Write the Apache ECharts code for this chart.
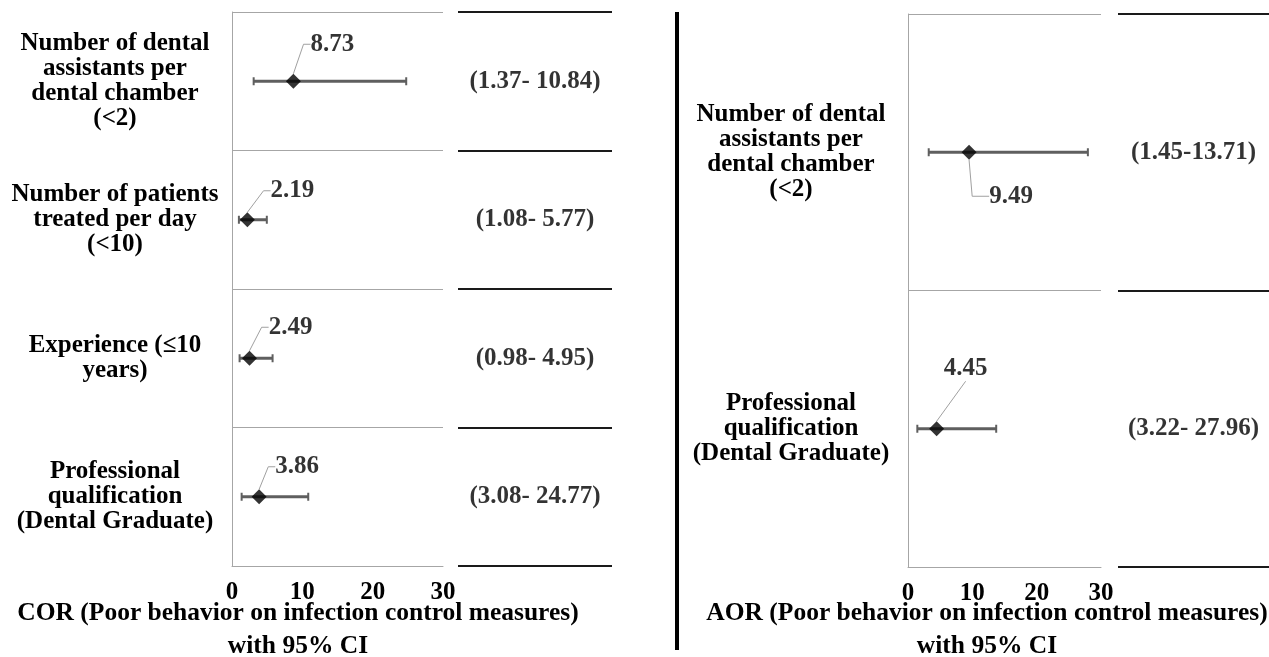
<!DOCTYPE html>
<html>
<head>
<meta charset="utf-8">
<script src="https://cdn.jsdelivr.net/npm/echarts@6/dist/echarts.min.js"></script>
<style>
html, body { margin: 0; padding: 0; background: #fff; }
#main { width: 1269px; height: 657px; }
</style>
</head>
<body>
<div id="main"></div>
<script>
// crude odds ratios (left panel)
var corLabels = ['Number of dental\nassistants per\ndental chamber\n(<2)', 'Number of patients\ntreated per day\n(<10)', 'Experience (\u226410\nyears)', 'Professional\nqualification\n(Dental Graduate)'];
var corValues = [8.73, 2.19, 2.49, 3.86];
var corLow = [3.08, 0.98, 1.08, 1.37];   // whiskers as drawn in the picture
var corHigh = [24.77, 4.95, 5.77, 10.84];
var corText = ['(1.37- 10.84)', '(1.08- 5.77)', '(0.98- 4.95)', '(3.08- 24.77)'];

// adjusted odds ratios (right panel)
var aorLabels = ['Number of dental\nassistants per\ndental chamber\n(<2)', 'Professional\nqualification\n(Dental Graduate)'];
var aorValues = [9.49, 4.45];
var aorLow = [3.22, 1.45];
var aorHigh = [27.96, 13.71];
var aorText = ['(1.45-13.71)', '(3.22- 27.96)'];

var xTicks = [0, 10, 20, 30];
var corTitle = 'COR (Poor behavior on infection control measures)\nwith 95% CI';
var aorTitle = 'AOR (Poor behavior on infection control measures)\nwith 95% CI';

// label shifts and leader elbow lengths for the value callouts (layout only)
var corShift = [[39, -37], [45, -29], [41, -31], [38, -30]];
var corElbow = [7, 7, 7, 7];
var aorShift = [[42, 44], [29, -60]];
var aorElbow = [17, 0];

var FONT = 'Liberation Serif';
var FS = 25;
var GRID_LINE = '#a6a6a6';
var BAR_COLOR = '#5f5f5f';

function renderErrorBar(params, api) {
    var y = api.value(2);
    var p1 = api.coord([api.value(0), y]);
    var p2 = api.coord([api.value(1), y]);
    var cap = 4;
    return {
        type: 'group',
        children: [
            { type: 'line', shape: { x1: p1[0], y1: p1[1], x2: p2[0], y2: p2[1] }, style: { stroke: BAR_COLOR, lineWidth: 3 } },
            { type: 'line', shape: { x1: p1[0], y1: p1[1] - cap, x2: p1[0], y2: p1[1] + cap }, style: { stroke: BAR_COLOR, lineWidth: 2 } },
            { type: 'line', shape: { x1: p2[0], y1: p2[1] - cap, x2: p2[0], y2: p2[1] + cap }, style: { stroke: BAR_COLOR, lineWidth: 2 } }
        ]
    };
}

function valueAxis(idx) {
    return {
        type: 'value',
        gridIndex: idx,
        min: xTicks[0],
        max: xTicks[xTicks.length - 1],
        interval: xTicks[1] - xTicks[0],
        axisLine: { show: true, lineStyle: { color: GRID_LINE, width: 1 } },
        axisTick: { show: false },
        splitLine: { show: false },
        axisLabel: { fontFamily: FONT, fontWeight: 'bold', fontSize: FS, color: '#000', margin: 14 }
    };
}

function hiddenAxis(idx) {
    return { type: 'value', gridIndex: idx, min: 0, max: 1, show: false };
}

function labelAxis(idx, labels) {
    return {
        type: 'category',
        gridIndex: idx,
        data: labels,
        inverse: true,
        axisLine: { show: true, lineStyle: { color: GRID_LINE, width: 1 } },
        axisTick: { show: false },
        splitLine: { show: true, lineStyle: { color: GRID_LINE, width: 1 } },
        axisLabel: {
            align: 'center', margin: 117, fontFamily: FONT, fontWeight: 'bold',
            fontSize: FS, lineHeight: 25, color: '#000'
        }
    };
}

function ciAxis(idx, labels) {
    return {
        type: 'category',
        gridIndex: idx,
        data: labels,
        inverse: true,
        axisLine: { show: false },
        axisTick: { show: false },
        axisLabel: { show: false },
        splitLine: { show: true, lineStyle: { color: '#1a1a1a', width: 2 } }
    };
}

function barSeries(axisIdx, low, high) {
    return {
        type: 'custom',
        xAxisIndex: axisIdx,
        yAxisIndex: axisIdx,
        renderItem: renderErrorBar,
        encode: { x: [0, 1], y: 2 },
        data: low.map(function (l, i) { return [l, high[i], i]; }),
        z: 2
    };
}

function pointSeries(axisIdx, values, shift, elbow) {
    return {
        type: 'scatter',
        xAxisIndex: axisIdx,
        yAxisIndex: axisIdx,
        symbol: 'diamond',
        symbolSize: 15,
        itemStyle: { color: '#000' },
        data: values.map(function (v, i) {
            return { value: [v, i], labelLine: { length2: elbow[i] } };
        }),
        label: {
            show: true,
            position: 'inside',
            formatter: function (p) { return p.value[0].toFixed(2); },
            fontFamily: FONT, fontWeight: 'bold', fontSize: FS, color: '#000'
        },
        labelLayout: function (p) {
            return { dx: shift[p.dataIndex][0], dy: shift[p.dataIndex][1] };
        },
        labelLine: { show: true, length2: 7, lineStyle: { color: '#a0a0a0', width: 1 } },
        z: 3
    };
}

function ciSeries(axisIdx, texts) {
    return {
        type: 'scatter',
        xAxisIndex: axisIdx,
        yAxisIndex: axisIdx,
        symbolSize: 1,
        itemStyle: { color: 'rgba(0,0,0,0)' },
        silent: true,
        data: texts.map(function (t, i) { return [0.5, i]; }),
        label: {
            show: true,
            position: 'inside',
            formatter: function (p) { return texts[p.dataIndex]; },
            fontFamily: FONT, fontWeight: 'bold', fontSize: FS, color: '#000'
        }
    };
}

var chart = echarts.init(document.getElementById('main'));
var option = {
    backgroundColor: '#fff',
    animation: false,
    grid: [
        { left: 232, top: 12, width: 211, height: 554 },
        { left: 458, top: 12, width: 154, height: 554 },
        { left: 908, top: 14, width: 193, height: 553 },
        { left: 1118, top: 14, width: 151, height: 553 }
    ],
    xAxis: [valueAxis(0), hiddenAxis(1), valueAxis(2), hiddenAxis(3)],
    yAxis: [labelAxis(0, corLabels), ciAxis(1, corLabels), labelAxis(2, aorLabels), ciAxis(3, aorLabels)],
    series: [
        barSeries(0, corLow, corHigh),
        pointSeries(0, corValues, corShift, corElbow),
        ciSeries(1, corText),
        barSeries(2, aorLow, aorHigh),
        pointSeries(2, aorValues, aorShift, aorElbow),
        ciSeries(3, aorText)
    ],
    graphic: [
        { type: 'line', shape: { x1: 677, y1: 12, x2: 677, y2: 650 }, style: { stroke: '#000', lineWidth: 4 } },
        {
            type: 'text', x: 298, y: 630,
            style: { text: corTitle, textAlign: 'center', textVerticalAlign: 'middle', fontFamily: FONT, fontWeight: 'bold', fontSize: 25.5, lineHeight: 33, fill: '#000' }
        },
        {
            type: 'text', x: 987, y: 630,
            style: { text: aorTitle, textAlign: 'center', textVerticalAlign: 'middle', fontFamily: FONT, fontWeight: 'bold', fontSize: 25.5, lineHeight: 33, fill: '#000' }
        }
    ]
};
chart.setOption(option);
</script>
</body>
</html>
